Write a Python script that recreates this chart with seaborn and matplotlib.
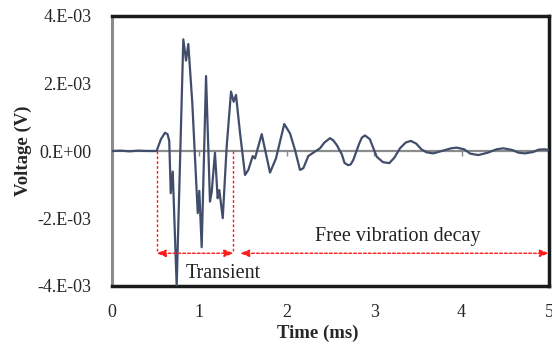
import numpy as np
import matplotlib
matplotlib.use("Agg")
import matplotlib.pyplot as plt
import seaborn as sns

# ---- data (time in ms, voltage in mV) ----
time_ms = [0.00, 0.10, 0.20, 0.30, 0.40, 0.51, 0.56, 0.606, 0.635, 0.655, 0.672, 0.695,
           0.740, 0.816, 0.847, 0.873, 0.919, 0.981, 0.999, 1.026, 1.076, 1.121, 1.141,
           1.178, 1.209, 1.228, 1.267, 1.312, 1.362, 1.392, 1.419, 1.465, 1.522, 1.560,
           1.610, 1.636, 1.713, 1.808, 1.876, 1.971, 2.037, 2.094, 2.151, 2.189, 2.246,
           2.303, 2.380, 2.43, 2.494, 2.53, 2.571, 2.63, 2.66, 2.70, 2.73, 2.760, 2.830,
           2.86, 2.895, 2.95, 3.029, 3.10, 3.173, 3.23, 3.295, 3.36, 3.418, 3.48, 3.54,
           3.600, 3.676, 3.80, 3.88, 3.944, 4.03, 4.10, 4.191, 4.30, 4.40, 4.477, 4.58,
           4.65, 4.725, 4.82, 4.88, 4.954, 5.00]
voltage_mV = [0.00, 0.01, -0.01, 0.01, 0.00, 0.00, 0.35, 0.54, 0.50, 0.30, -1.25, -0.61,
              -4.00, 3.31, 2.68, 3.17, 1.41, -1.84, -1.18, -2.85, 2.22, -1.50, -1.21,
              -0.05, -1.40, -1.16, -1.99, 0.13, 1.76, 1.46, 1.66, 0.53, -0.71, -0.56,
              -0.15, -0.22, 0.50, -0.64, -0.22, 0.80, 0.52, 0.03, -0.56, -0.51, -0.15,
              -0.05, 0.08, 0.25, 0.38, 0.32, 0.18, -0.10, -0.35, -0.42, -0.40, -0.27, 0.23,
              0.40, 0.46, 0.35, -0.17, -0.33, -0.36, -0.20, 0.08, 0.25, 0.30, 0.22, 0.05,
              -0.04, -0.07, 0.02, 0.08, 0.10, 0.05, -0.08, -0.12, -0.05, 0.05, 0.08, 0.03,
              -0.05, -0.07, -0.03, 0.04, 0.05, 0.03]

x_ticks = [0, 1, 2, 3, 4, 5]
y_ticks_mV = [-4, -2, 0, 2, 4]
y_tick_labels = ["-4.E-03", "-2.E-03", "0.E+00", "2.E-03", "4.E-03"]

transient_start, transient_end = 0.51, 1.39
decay_start, decay_end = 1.465, 5.0
arrow_level_mV = -3.03

sns.set_style("white")
plt.rcParams['font.family'] = ['Liberation Serif', 'DejaVu Serif']

fig = plt.figure(figsize=(5.52, 3.47), dpi=100)
ax = fig.add_axes([112/552, 1-286/347, 437/552, 270/347])

volts = np.array(voltage_mV) * 1e-3
y_ticks = np.array(y_ticks_mV) * 1e-3

# zero axis line (gray) with small downward ticks
ax.axhline(0, color='#8c8c8c', lw=1.6, zorder=1)
ax.plot(x_ticks[1:-1], [0]*len(x_ticks[1:-1]), linestyle='none', marker=3,
        markersize=3.5, color='#8c8c8c', mew=1, zorder=1)

sns.lineplot(x=time_ms, y=volts, ax=ax, color='#414d6b', lw=1.6, estimator=None,
             sort=False, zorder=3)

ax.set_xlim(0, 5)
ax.set_ylim(-4e-3, 4e-3)
ax.set_xticks(x_ticks)
ax.set_xticklabels([str(v) for v in x_ticks], fontsize=13)
ax.set_yticks(y_ticks)
ax.set_yticklabels(y_tick_labels, fontsize=13)
ax.tick_params(axis='x', length=0, pad=13)
ax.tick_params(axis='y', length=4.5, width=1, color='#8c8c8c', direction='out', pad=10)

for s in ['top', 'right', 'bottom']:
    ax.spines[s].set_color('#1a1a1a')
    ax.spines[s].set_linewidth(2.5)
ax.spines['left'].set_color('#8c8c8c')
ax.spines['left'].set_linewidth(2.2)

ax.set_xlabel("Time (ms)", fontsize=13.5, fontweight='bold')
ax.xaxis.set_label_coords((318-112)/437, -(333-286)/270, transform=ax.transAxes)
ax.xaxis.label.set_va('center')
ax.set_ylabel("Voltage (V)", fontsize=13.5, fontweight='bold')
ax.yaxis.set_label_coords(-(112-23)/437, 0.5)
ax.yaxis.label.set_va('center')

red = '#ff1a1a'
lvl = arrow_level_mV * 1e-3
for xv in [transient_start, transient_end]:
    ax.plot([xv, xv], [0, lvl], color=red, lw=1, linestyle=(0, (2, 1.5)), zorder=2)

for a, b in [(transient_start, transient_end), (decay_start, decay_end)]:
    ax.annotate('', xy=(b, lvl), xytext=(a, lvl),
                arrowprops=dict(arrowstyle='<|-|>,head_length=0.55,head_width=0.22',
                                color=red, lw=1, linestyle=(0, (2, 1.5)),
                                shrinkA=0, shrinkB=0), zorder=4)

ax.text(1.274, -3.75e-3, "Transient", fontsize=14.5, ha='center', va='baseline',
        color='#222222')
ax.text(3.27, -2.67e-3, "Free vibration decay", fontsize=14.5, ha='center',
        va='baseline', color='#222222')

fig.savefig("out.png", dpi=100)
